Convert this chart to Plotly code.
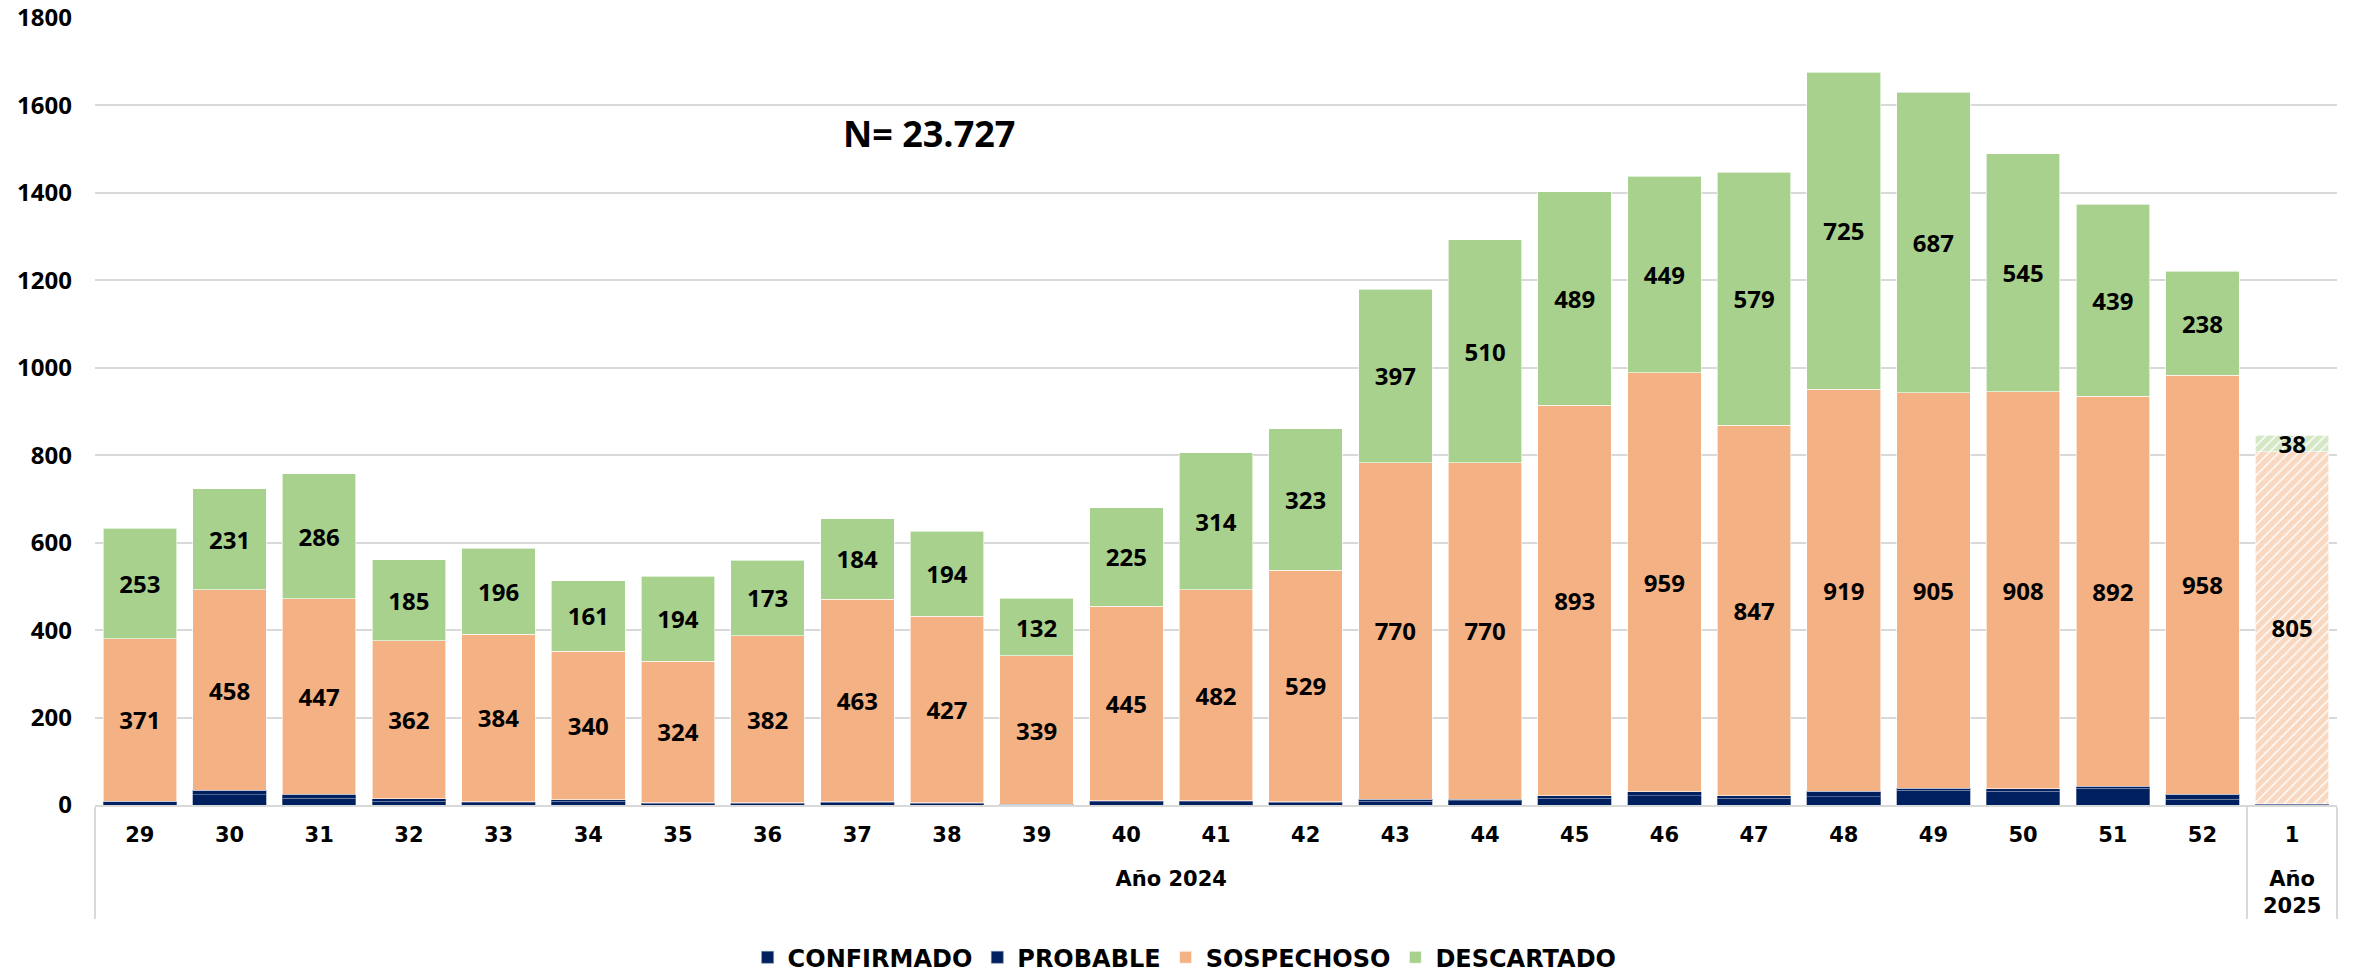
import plotly.graph_objects as go

# ---- data ----
weeks = ["29", "30", "31", "32", "33", "34", "35", "36", "37", "38", "39", "40",
         "41", "42", "43", "44", "45", "46", "47", "48", "49", "50", "51", "52", "1"]
years = ["<br>Año 2024"] * 24 + ["<br>Año<br>2025"]

confirmado = [8, 23, 15, 9, 5, 9, 4, 4, 6, 4, 1, 8, 7, 6, 9, 10, 15, 21, 15, 19, 34, 32, 38, 13, 2]
probable = [1, 11, 10, 5, 2, 3, 1, 1, 2, 1, 1, 2, 3, 2, 4, 3, 6, 9, 6, 13, 4, 5, 5, 12, 1]
sospechoso = [371, 458, 447, 362, 384, 340, 324, 382, 463, 427, 339, 445, 482, 529, 770,
              770, 893, 959, 847, 919, 905, 908, 892, 958, 805]
descartado = [253, 231, 286, 185, 196, 161, 194, 173, 184, 194, 132, 225, 314, 323, 397,
              510, 489, 449, 579, 725, 687, 545, 439, 238, 38]

y_ticks = [0, 200, 400, 600, 800, 1000, 1200, 1400, 1600, 1800]
n_text = "N= 23.727"

NAVY = "#002060"
ORANGE = "#F4B183"
GREEN = "#A9D18E"
GRID = "#D9D9D9"

x = [years, weeks]
hatch = [""] * (len(weeks) - 1) + ["/"]
label_font = dict(family="Open Sans", size=24, color="black", weight=700)

fig = go.Figure()
fig.add_trace(go.Bar(name="CONFIRMADO", x=x, y=confirmado,
                     marker=dict(color=NAVY, line=dict(color="#8090B0", width=0.6))))
fig.add_trace(go.Bar(name="PROBABLE", x=x, y=probable,
                     marker=dict(color=NAVY, line=dict(color="#8090B0", width=0.6))))
fig.add_trace(go.Bar(name="SOSPECHOSO", x=x, y=sospechoso,
                     text=[str(v) for v in sospechoso],
                     textposition="inside", insidetextanchor="middle", textangle=0,
                     textfont=label_font,
                     marker=dict(color=ORANGE, line=dict(color="white", width=0.6),
                                 pattern=dict(shape=hatch, fgcolor=ORANGE, bgcolor="white",
                                              size=7, solidity=0.8))))
fig.add_trace(go.Bar(name="DESCARTADO", x=x, y=descartado,
                     text=[str(v) for v in descartado],
                     textposition="inside", insidetextanchor="middle", textangle=0,
                     textfont=label_font,
                     marker=dict(color=GREEN, line=dict(color="white", width=0.6),
                                 pattern=dict(shape=hatch, fgcolor=GREEN, bgcolor="white",
                                              size=7, solidity=0.8))))

fig.add_annotation(text=n_text, xref="paper", yref="paper", x=0.372, y=0.853,
                   showarrow=False, xanchor="center", yanchor="middle",
                   font=dict(family="Open Sans", size=36, color="black", weight=700))

fig.update_layout(
    width=2354, height=975,
    barmode="stack", bargap=0.18,
    plot_bgcolor="white", paper_bgcolor="white",
    margin=dict(l=95, r=17, t=18, b=170, autoexpand=False),
    uniformtext=dict(mode="show", minsize=24),
    font=dict(family="Open Sans", color="black"),
    showlegend=True,
    legend=dict(orientation="h", x=0.486, xanchor="center", y=-0.194, yanchor="middle",
                font=dict(family="DejaVu Sans", size=24, color="black", weight=700),
                traceorder="normal", itemwidth=30),
    xaxis=dict(type="multicategory", showline=True, linecolor=GRID, linewidth=2,
               showdividers=True, dividercolor=GRID, dividerwidth=1.5,
               ticklabelstandoff=10,
               tickfont=dict(family="DejaVu Sans", size=21, color="black", weight=700),
               showgrid=False),
    yaxis=dict(range=[0, 1800], tickvals=y_ticks, showgrid=True, gridcolor=GRID,
               gridwidth=1.5, zeroline=False, showline=False,
               ticklabelstandoff=22, ticklabeloverflow="allow",
               tickfont=dict(family="Open Sans", size=24, color="black", weight=700)),
)

fig.write_html("out.html", config={"displayModeBar": False},
               post_script="document.body.style.margin='0';document.body.style.padding='0';")
